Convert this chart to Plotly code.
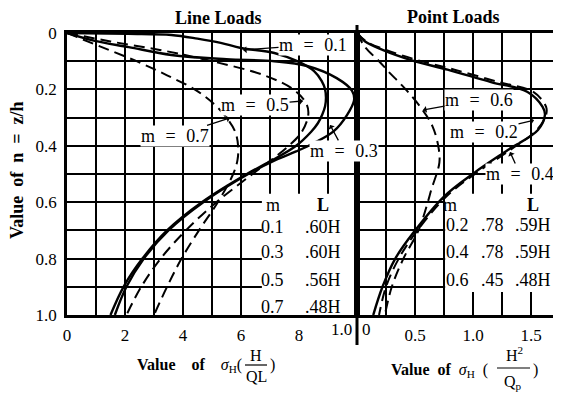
import plotly.graph_objects as go

# ---- data ----
# Line loads: x = sigma_H * H / QL (axis 0..1.0), n = z/h
n_l01 = [0, 0.003, 0.007, 0.02, 0.035, 0.053, 0.071, 0.10, 0.135, 0.17, 0.20, 0.23, 0.26, 0.29,
         0.32, 0.35, 0.40, 0.45, 0.50, 0.60, 0.70, 0.80, 0.90, 1.0]
x_l01 = [0, 0.21, 0.36, 0.45, 0.53, 0.60, 0.715, 0.794, 0.852, 0.878, 0.89, 0.893, 0.89, 0.88,
         0.865, 0.842, 0.79, 0.71, 0.62, 0.465, 0.345, 0.26, 0.195, 0.15]

n_l03 = [0, 0.028, 0.05, 0.078, 0.093, 0.10, 0.117, 0.16, 0.205, 0.238, 0.29, 0.348, 0.39, 0.42,
         0.45, 0.50, 0.60, 0.70, 0.80, 0.90, 1.0]
x_l03 = [0, 0.096, 0.213, 0.36, 0.55, 0.715, 0.828, 0.93, 0.983, 0.99, 0.966, 0.92, 0.852, 0.79,
         0.72, 0.625, 0.47, 0.35, 0.265, 0.205, 0.165]

n_l05 = [0, 0.03, 0.06, 0.10, 0.15, 0.20, 0.25, 0.29, 0.35, 0.40, 0.45, 0.50, 0.60, 0.70, 0.80, 0.90, 1.0]
x_l05 = [0, 0.15, 0.32, 0.50, 0.68, 0.78, 0.825, 0.832, 0.81, 0.765, 0.705, 0.64, 0.515, 0.41, 0.323, 0.256, 0.205]

n_l07 = [0, 0.05, 0.10, 0.15, 0.20, 0.25, 0.30, 0.35, 0.40, 0.45, 0.50, 0.60, 0.70, 0.80, 0.90, 1.0]
x_l07 = [0, 0.12, 0.24, 0.345, 0.44, 0.505, 0.55, 0.58, 0.59, 0.588, 0.573, 0.52, 0.455, 0.395, 0.345, 0.30]

# Point loads: x = sigma_H * H^2 / Qp
n_p02 = [0, 0.03, 0.06, 0.096, 0.13, 0.174, 0.209, 0.262, 0.29, 0.344, 0.415, 0.496, 0.58, 0.706, 0.80, 0.90, 1.0]
x_p02 = [0, 0.07, 0.22, 0.466, 0.78, 1.155, 1.47, 1.60, 1.62, 1.56, 1.30, 1.01, 0.75, 0.49, 0.33, 0.22, 0.14]
x_p04 = [0, 0.08, 0.25, 0.52, 0.84, 1.22, 1.52, 1.63, 1.63, 1.55, 1.32, 1.03, 0.77, 0.51, 0.36, 0.25, 0.19]

n_p06 = [0, 0.05, 0.10, 0.135, 0.20, 0.27, 0.33, 0.40, 0.46, 0.556, 0.60, 0.70, 0.80, 0.90, 1.0]
x_p06 = [0, 0.07, 0.19, 0.267, 0.42, 0.56, 0.65, 0.70, 0.71, 0.64, 0.61, 0.53, 0.40, 0.30, 0.24]

# tables
line_m = ["0.1", "0.3", "0.5", "0.7"]
line_L = [".60H", ".60H", ".56H", ".48H"]
point_m = ["0.2", "0.4", "0.6"]
point_k = [".78", ".78", ".45"]
point_L = [".59H", ".59H", ".48H"]

W, H = 561, 395
OFF = 8  # page margin around the plot div
FONT = "Liberation Serif"


def px(x):
    return (x - OFF) / W


def py(y):
    return 1 - (y - OFF) / H


fig = go.Figure()

solid = dict(color="black", width=2.4)
dashed = dict(color="black", width=2, dash="11px,6px")

fig.add_trace(go.Scatter(x=x_l01, y=n_l01, mode="lines", line=solid, line_shape="spline", xaxis="x", yaxis="y"))
fig.add_trace(go.Scatter(x=x_l03, y=n_l03, mode="lines", line=solid, line_shape="spline", xaxis="x", yaxis="y"))
fig.add_trace(go.Scatter(x=x_l05, y=n_l05, mode="lines", line=dashed, line_shape="spline", xaxis="x", yaxis="y"))
fig.add_trace(go.Scatter(x=x_l07, y=n_l07, mode="lines", line=dashed, line_shape="spline", xaxis="x", yaxis="y"))

fig.add_trace(go.Scatter(x=x_p02, y=n_p02, mode="lines", line=solid, line_shape="spline", xaxis="x2", yaxis="y2"))
fig.add_trace(go.Scatter(x=x_p04, y=n_p02, mode="lines", line=dashed, line_shape="spline", xaxis="x2", yaxis="y2"))
fig.add_trace(go.Scatter(x=x_p06, y=n_p06, mode="lines", line=dashed, line_shape="spline", xaxis="x2", yaxis="y2"))

tickfont = dict(family=FONT, size=17, color="black")
ax_common = dict(showgrid=True, gridcolor="black", gridwidth=1.7, zeroline=False,
                 showline=True, linecolor="black", linewidth=2.5, mirror=True,
                 ticks="", tickfont=tickfont, automargin=False)

yvals = [i / 10 for i in range(11)]
ytext = ["0", " ", "0.2", " ", "0.4", " ", "0.6", " ", "0.8", " ", "1.0"]
xvals_l = [i / 10 for i in range(11)]
xtext_l = ["0", " ", "2", " ", "4", " ", "6", " ", "8", " ", " "]
xvals_p = [0, 0.25, 0.5, 0.75, 1.0, 1.25, 1.5]
xtext_p = [" ", " ", "0.5", " ", "1.0", " ", "1.5"]

fig.update_layout(
    template="none",
    width=W, height=H,
    margin=dict(l=0, r=0, t=0, b=0, pad=0),
    paper_bgcolor="white", plot_bgcolor="white",
    showlegend=False,
    font=dict(family=FONT, color="black"),
    xaxis=dict(domain=[px(67), px(357)], range=[0, 1.0], tickvals=xvals_l, ticktext=xtext_l,
               anchor="y", ticklabelstandoff=3, **ax_common),
    yaxis=dict(domain=[py(315), py(33)], range=[1.0, 0], tickvals=yvals, ticktext=ytext,
               anchor="x", ticklabelstandoff=4, **ax_common),
    xaxis2=dict(domain=[px(357), px(557)], range=[0, 1.724], tickvals=xvals_p, ticktext=xtext_p,
                anchor="y2", ticklabelstandoff=3, **ax_common),
    yaxis2=dict(domain=[py(315), py(33)], range=[1.0, 0], tickvals=yvals, showticklabels=False,
                anchor="x2", **ax_common),
)

# white areas behind the tables
fig.add_shape(type="rect", xref="x", yref="y", x0=0.672, x1=1.0, y0=0.57, y1=1.0,
              fillcolor="white", line_width=0, layer="between")
fig.add_shape(type="rect", xref="x2", yref="y2", x0=0.76, x1=1.724, y0=0.57, y1=0.918,
              fillcolor="white", line_width=0, layer="between")

# divider between the two panels
fig.add_shape(type="line", xref="paper", yref="paper", x0=px(357), x1=px(357), y0=py(25), y1=py(345),
              line=dict(color="black", width=3))

lab = dict(family=FONT, size=18, color="black")
sp = "\u2002\u200a"


def m_label(text, x, y, xref, yref, ax, ay):
    fig.add_annotation(text=text, x=x, y=y, xref=xref, yref=yref, ax=ax, ay=ay,
                       showarrow=True, arrowhead=1, arrowsize=0.9, arrowwidth=1.3,
                       arrowcolor="black", bgcolor="white", font=lab, borderpad=0)


m_label(f"m{sp}={sp}0.1", 0.607, 0.06, "x", "y", 70, -5)
m_label(f"m{sp}={sp}0.5", 0.814, 0.241, "x", "y", -48, 4)
m_label(f"m{sp}={sp}0.7", 0.562, 0.301, "x", "y", -55, 18)
m_label(f"m{sp}={sp}0.3", 0.907, 0.326, "x", "y", 14, 26)
m_label(f"m{sp}={sp}0.6", 0.569, 0.273, "x2", "y2", 56, -10)
m_label(f"m{sp}={sp}0.2", 1.526, 0.309, "x2", "y2", -50, 12)
m_label(f"m{sp}={sp}0.4", 1.319, 0.422, "x2", "y2", 10, 22)


def text(t, x, y, xref="paper", yref="paper", font=lab, **kw):
    opts = dict(xanchor="center", yanchor="middle")
    opts.update(kw)
    fig.add_annotation(text=t, x=x, y=y, xref=xref, yref=yref, showarrow=False, font=font, **opts)


# tables
row_n_l = [0.688, 0.777, 0.876, 0.972]
text("m", 0.71, 0.61, "x", "y")
text("<b>L</b>", 0.883, 0.61, "x", "y")
for m, L, n in zip(line_m, line_L, row_n_l):
    text(m, 0.71, n, "x", "y")
    text(L, 0.883, n, "x", "y")

row_n_p = [0.681, 0.777, 0.876]
text("m", 0.80, 0.61, "x2", "y2")
text("<b>L</b>", 1.517, 0.61, "x2", "y2")
for m, k, L, n in zip(point_m, point_k, point_L, row_n_p):
    text(m, 0.862, n, "x2", "y2")
    text(k, 1.172, n, "x2", "y2")
    text(L, 1.517, n, "x2", "y2")

# end tick labels next to the divider
text("1.0", px(341), py(329), font=tickfont)
text("0", px(366), py(329), font=tickfont)

# titles
bold = dict(family=FONT, size=18, color="black")
text("<b>Line Loads</b>", px(218), py(18), font=bold)
text("<b>Point Loads</b>", px(453), py(17), font=bold)
text("<b>Value\u2002of\u2002n\u2002=\u2002z/h</b>", px(17), py(170), font=bold, textangle=-90)

# x titles with stacked fractions
xt = dict(family=FONT, size=16, color="black")
text("<b>Value\u2003of\u2003</b><i>σ</i><sub>H</sub>(", px(244), py(365), font=xt, xanchor="right")
text("H", px(256), py(355), font=xt)
text("QL", px(256), py(376), font=xt)
text(")", px(272), py(365), font=xt)
fig.add_shape(type="line", xref="paper", yref="paper", x0=px(245), x1=px(267), y0=py(365), y1=py(365),
              line=dict(color="black", width=1.2))

text("<b>Value\u2002of\u2002</b><i>σ</i><sub>H</sub>\u2002(", px(490), py(370), font=xt, xanchor="right")
text("H<sup>2</sup>", px(514), py(354), font=xt)
text("Q<sub>p</sub>", px(513), py(382), font=xt)
text(")", px(535), py(370), font=xt)
fig.add_shape(type="line", xref="paper", yref="paper", x0=px(497), x1=px(530), y0=py(368), y1=py(368),
              line=dict(color="black", width=1.2))

fig.write_html("out.html")
